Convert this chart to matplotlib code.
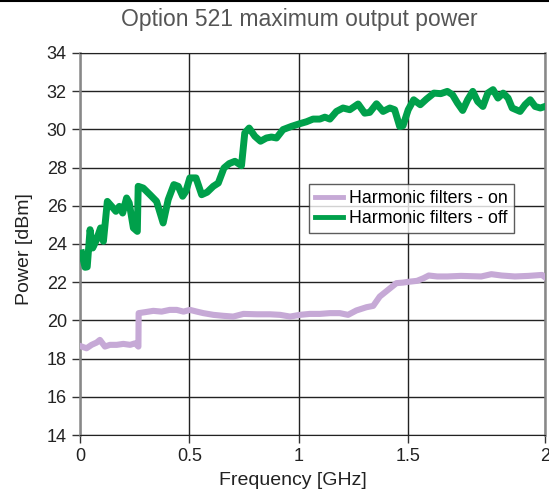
import numpy as np
import matplotlib.pyplot as plt
from matplotlib.lines import Line2D

plt.rcParams['font.family'] = ['Liberation Sans', 'DejaVu Sans']

# Harmonic filters - off (green)
f_off = [0.008, 0.023, 0.033, 0.046, 0.058, 0.076, 0.094, 0.107, 0.125, 0.145,
         0.164, 0.18, 0.195, 0.213, 0.225, 0.244, 0.262, 0.266, 0.289, 0.32,
         0.35, 0.38, 0.403, 0.429, 0.449, 0.469, 0.484, 0.502, 0.53, 0.556,
         0.581, 0.609, 0.632, 0.658, 0.682, 0.708, 0.738, 0.753, 0.773, 0.799,
         0.825, 0.852, 0.875, 0.898, 0.928, 0.967, 1.005, 1.035, 1.065, 1.096,
         1.119, 1.142, 1.172, 1.202, 1.233, 1.271, 1.301, 1.324, 1.355, 1.385,
         1.416, 1.438, 1.461, 1.476, 1.5, 1.52, 1.544, 1.567, 1.594, 1.619,
         1.643, 1.662, 1.68, 1.699, 1.717, 1.736, 1.754, 1.773, 1.791, 1.81,
         1.828, 1.847, 1.865, 1.88, 1.909, 1.927, 1.946, 1.964, 1.983, 2.0]
p_off = [23.53, 22.78, 22.8, 24.75, 23.79, 24.23, 24.84, 24.14, 26.23, 25.97,
         25.71, 25.97, 25.62, 26.41, 26.15, 24.84, 24.66, 27.02, 26.93, 26.58,
         26.23, 25.1, 26.32, 27.11, 27.02, 26.5, 26.76, 27.46, 27.46, 26.58,
         26.71, 27.02, 27.19, 27.98, 28.21, 28.33, 28.1, 29.81, 30.07, 29.64,
         29.38, 29.55, 29.6, 29.55, 29.99, 30.16, 30.3, 30.4, 30.54, 30.54,
         30.64, 30.54, 30.94, 31.12, 31.03, 31.33, 30.85, 30.89, 31.34, 30.94,
         31.12, 31.03, 30.15, 30.19, 31.03, 31.55, 31.29, 31.59, 31.9, 31.87,
         31.99, 31.81, 31.38, 30.99, 31.55, 31.99, 31.46, 31.2, 31.9, 32.08,
         31.64, 31.9, 31.64, 31.12, 30.94, 31.29, 31.55, 31.2, 31.12, 31.2]

# Harmonic filters - on (purple)
f_on = [0.008, 0.03, 0.053, 0.076, 0.091, 0.114, 0.137, 0.168, 0.198, 0.229,
        0.252, 0.267, 0.268, 0.297, 0.335, 0.373, 0.41, 0.442, 0.473, 0.503,
        0.534, 0.564, 0.61, 0.655, 0.7, 0.747, 0.808, 0.869, 0.915, 0.96,
        1.005, 1.05, 1.096, 1.142, 1.187, 1.225, 1.263, 1.309, 1.34, 1.37,
        1.408, 1.446, 1.477, 1.5, 1.532, 1.556, 1.575, 1.606, 1.643, 1.693,
        1.767, 1.804, 1.841, 1.89, 1.94, 1.989, 2.0]
p_on = [18.63, 18.54, 18.72, 18.84, 18.98, 18.63, 18.72, 18.72, 18.77, 18.72,
        18.8, 18.63, 20.38, 20.43, 20.5, 20.46, 20.55, 20.55, 20.46, 20.55,
        20.46, 20.38, 20.29, 20.24, 20.2, 20.34, 20.32, 20.32, 20.29, 20.2,
        20.29, 20.34, 20.34, 20.38, 20.38, 20.29, 20.52, 20.69, 20.76, 21.25,
        21.6, 21.95, 21.98, 22.02, 22.07, 22.21, 22.35, 22.3, 22.3, 22.33,
        22.3, 22.42, 22.35, 22.3, 22.33, 22.38, 22.26]

x_ticks = [0, 0.5, 1, 1.5, 2]
x_labels = ['0', '0.5', '1', '1.5', '2']
y_ticks = list(range(14, 35, 2))


# the original axis stretches the last 0.5 GHz interval
def fwd(x):
    x = np.asarray(x, dtype=float)
    return np.where(x <= 1.5, x, 1.5 + (x - 1.5) * 1.25)


def inv(u):
    u = np.asarray(u, dtype=float)
    return np.where(u <= 1.5, u, 1.5 + (u - 1.5) / 1.25)


fig = plt.figure(figsize=(5.49, 4.98), dpi=100)
ax = fig.add_axes([0.1457, 0.1265, 0.8470, 0.7671])
ax.set_xscale('function', functions=(fwd, inv))

ax.plot(f_on, p_on, color='#c6a9d6', lw=4.4, label='Harmonic filters - on',
        solid_joinstyle='round', zorder=3)
ax.plot(f_off, p_off, color='#00a04b', lw=5, label='Harmonic filters - off',
        solid_joinstyle='round', zorder=4)

ax.set_xlim(0, 2)
ax.set_ylim(14, 34)
ax.set_xticks(x_ticks)
ax.set_xticklabels(x_labels)
ax.set_yticks(y_ticks)
ax.grid(True, color='#222222', lw=1)
ax.set_axisbelow(True)
ax.tick_params(labelsize=13, length=6, width=1, color='#333333', labelcolor='#222222')
ax.xaxis.set_minor_locator(plt.NullLocator())

for side in ['left', 'right']:
    ax.spines[side].set_color('#888888')
    ax.spines[side].set_linewidth(1.8)
ax.spines['top'].set_color('#222222')
ax.spines['bottom'].set_color('#222222')

ax.set_xlabel('Frequency [GHz]', fontsize=14, color='#222222', va='top')
ax.xaxis.set_label_coords(0.458, -0.097)
ax.set_ylabel('Power [dBm]', fontsize=14, color='#222222')
ax.yaxis.set_label_coords(-0.101, 0.487)
fig.text(0.546, 0.96, 'Option 521 maximum output power', ha='center', va='center',
         fontsize=16.5, color='#555555')

leg = ax.legend(loc='upper left', bbox_to_anchor=(0.492, 0.657), fontsize=12.8,
                frameon=True, fancybox=False, edgecolor='#333333',
                handlelength=1.6, handletextpad=0.3, borderpad=0.35,
                labelspacing=0.15, borderaxespad=0)
leg.get_frame().set_linewidth(1)
leg.set_zorder(5)
for h in leg.get_lines():
    h.set_linewidth(3.5)

fig.add_artist(Line2D([0, 1], [0.998, 0.998], transform=fig.transFigure,
                      color='black', lw=1.5))

fig.savefig('out.png', dpi=100)
